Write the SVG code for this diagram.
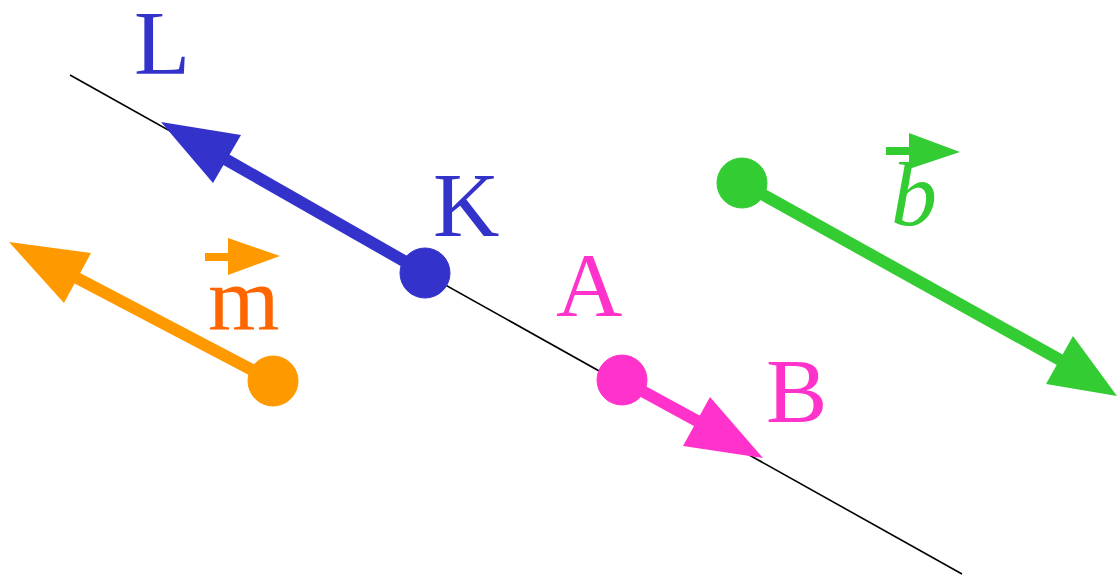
<svg xmlns="http://www.w3.org/2000/svg" width="1117" height="576" viewBox="0 0 1117 576">
<style>
text{font-family:"Liberation Serif","Times New Roman",serif;font-size:92px}
.blue{fill:#3333cc;stroke:#3333cc}
.pink{fill:#ff33cc;stroke:#ff33cc}
.green{fill:#33cc33;stroke:#33cc33}
.orange{fill:#ff9900;stroke:#ff9900}
.shaft{stroke-width:12;fill:none}
.head{stroke:none}
</style>
<rect width="1117" height="576" fill="#ffffff"/>
<g id="connectors">
<line x1="70" y1="75" x2="962" y2="574" stroke="#000" stroke-width="1.6"/>
<line class="blue shaft" x1="425" y1="273" x2="225" y2="159"/>
<polygon class="blue head" points="161,122 241,135 213,183"/>
<line class="orange shaft" x1="273" y1="381" x2="75" y2="277"/>
<polygon class="orange head" points="9,242 91,253 64,303"/>
<line class="green shaft" x1="742" y1="183" x2="1062" y2="361"/>
<polygon class="green head" points="1117,396 1073,336 1046,384"/>
<line class="pink shaft" x1="622" y1="380" x2="699" y2="422"/>
<polygon class="pink head" points="763,458 710,397 683,446"/>
</g>
<g id="K"><circle class="blue" cx="425" cy="273" r="25" stroke="none"/><text x="433" y="236" fill="#3333cc">K</text></g>
<g id="L"><text x="134" y="74" fill="#3333cc">L</text></g>
<g id="A"><circle class="pink" cx="622" cy="380" r="25" stroke="none"/><text x="556" y="316" fill="#ff33cc">A</text></g>
<g id="B"><text x="766" y="422" fill="#ff33cc">B</text></g>
<g id="m-start"><circle class="orange" cx="273" cy="381" r="25" stroke="none"/></g>
<g id="b-start"><circle class="green" cx="742" cy="183" r="25" stroke="none"/></g>
<g id="m-label">
<rect x="205" y="253" width="24" height="8" fill="#ff9900"/>
<polygon points="228,238 280,256 228,275" fill="#ff9900"/>
<text x="208" y="330" fill="#ff6600">m</text>
</g>
<g id="b-label">
<text x="891" y="225" fill="#33cc33" font-style="italic">b</text>
<rect x="886" y="147" width="24" height="8" fill="#33cc33"/>
<polygon points="909,133 960,152 909,169" fill="#33cc33"/>
</g>
</svg>
